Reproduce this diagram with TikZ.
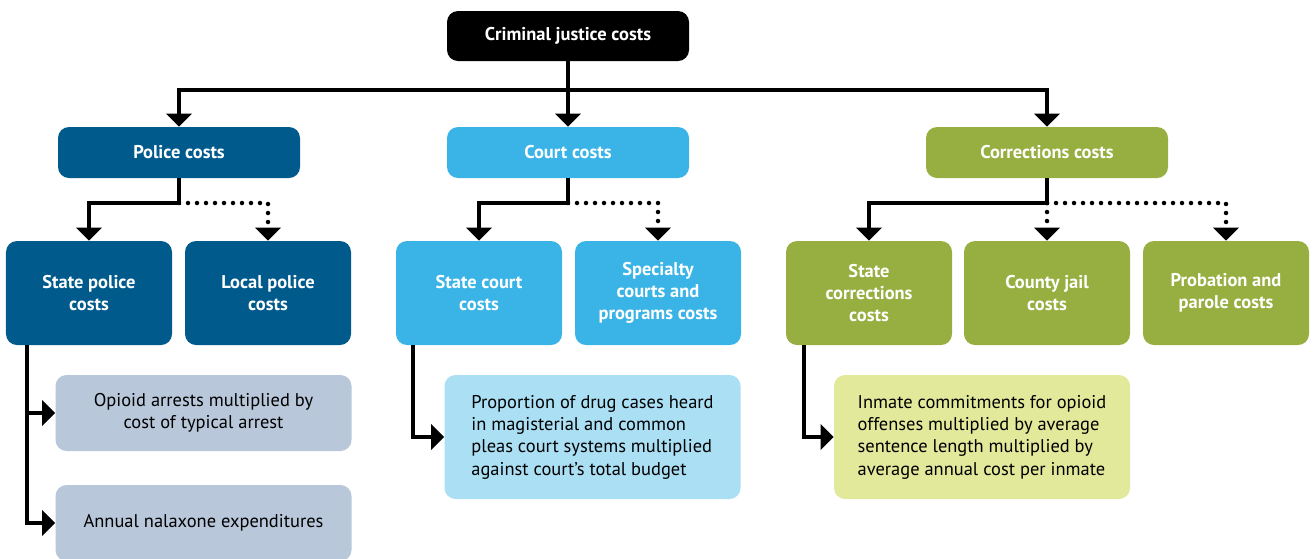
\documentclass[tikz,border=0pt]{standalone}
\usepackage{fontspec}
\setmainfont{PT Sans}
\usepackage{tikz}
\usetikzlibrary{arrows.meta,shapes,positioning}
\definecolor{policeblue}{RGB}{0,90,140}
\definecolor{courtblue}{RGB}{58,180,230}
\definecolor{corrgreen}{RGB}{151,174,64}
\definecolor{policepale}{RGB}{184,199,218}
\definecolor{courtpale}{RGB}{171,223,244}
\definecolor{corrpale}{RGB}{226,233,154}
\tikzstyle{box}     = [rounded corners=0.22cm, align=center, inner sep=2pt,
                       font=\fontsize{10.5}{12.7}\selectfont]
\tikzstyle{head}    = [box, text=white, font=\fontsize{10.5}{12.7}\selectfont\bfseries,
                       minimum width=4.84cm, minimum height=1.02cm]
\tikzstyle{sub}     = [head, minimum width=3.32cm, minimum height=2.08cm]
\tikzstyle{detail}  = [box, text=black, minimum width=5.92cm]
\tikzstyle{link}    = [line width=0.08cm, -{Triangle[width=0.5cm,length=0.26cm]}]
\tikzstyle{dotlink} = [line width=0.09cm, line cap=round, dash pattern=on 0pt off 0.18cm,
                       -{Triangle[width=0.5cm,length=0.26cm]}]

\begin{document}
\begin{tikzpicture}
        \useasboundingbox (0,0) rectangle (26.28,-11.16);

        % top of the tree
        \node[head, fill=black, minimum height=1.0cm] (top) at (11.36,-0.72) {Criminal justice costs};
        \node[head, fill=policeblue] (police) at (3.58,-3.05) {Police costs};
        \node[head, fill=courtblue] (court) at (11.36,-3.05) {Court costs};
        \node[head, fill=corrgreen] (corr) at (20.94,-3.05) {Corrections costs};

        % second row
        \node[sub, fill=policeblue] (statepol) at (1.78,-5.86) {State police\\costs};
        \node[sub, fill=policeblue] (localpol) at (5.36,-5.86) {Local police\\costs};
        \node[sub, fill=courtblue] (statecourt) at (9.58,-5.86) {State court\\costs};
        \node[sub, fill=courtblue] (special) at (13.16,-5.86) {Specialty\\courts and\\programs costs};
        \node[sub, fill=corrgreen] (statecorr) at (17.38,-5.86) {State\\corrections\\costs};
        \node[sub, fill=corrgreen] (jail) at (20.94,-5.86) {County jail\\costs};
        \node[sub, fill=corrgreen] (parole) at (24.52,-5.86) {Probation and\\parole costs};

        % how each cost is estimated
        \node[detail, fill=policepale, minimum height=1.52cm] (arrests) at (4.07,-8.26)
            {Opioid arrests multiplied by\\cost of typical arrest};
        \node[detail, fill=policepale, minimum height=1.52cm] (naloxone) at (4.07,-10.46)
            {Annual nalaxone expenditures};
        \node[detail, fill=courtpale, minimum height=2.48cm, align=left] (cases) at (11.85,-8.74)
            {Proportion of drug cases heard\\in magisterial and common\\pleas court systems multiplied\\against court's total budget};
        \node[detail, fill=corrpale, minimum height=2.48cm, align=left] (inmates) at (19.64,-8.74)
            {Inmate commitments for opioid\\offenses multiplied by average\\sentence length multiplied by\\average annual cost per inmate};

        % bus lines
        \coordinate (topbus) at (top.south |- 0,-1.80);
        \coordinate (polbus) at (police.south |- 0,-4.06);
        \coordinate (courtbus) at (court.south |- 0,-4.06);
        \coordinate (corrbus) at (corr.south |- 0,-4.06);

        \draw[link] (top.south) -- (court.north);
        \draw[link] (topbus) -| (police.north);
        \draw[link] (topbus) -| (corr.north);

        \draw[dotlink] (polbus) -| (localpol.north);
        \draw[link] (police.south) -- (polbus) -| (statepol.north);
        \draw[dotlink] (courtbus) -| (special.north);
        \draw[link] (court.south) -- (courtbus) -| (statecourt.north);
        \draw[dotlink] (corrbus) -| (parole.north);
        \draw[dotlink] (corrbus) -- (jail.north);
        \draw[link] (corr.south) -- (corrbus) -| (statecorr.north);

        % down to the estimates
        \draw[link] (statepol.south -| 0.54,0) |- (arrests.west);
        \draw[link] (statepol.south -| 0.54,0) |- (naloxone.west);
        \draw[link] (statecourt.south -| 8.26,0) |- (cases.west);
        \draw[link] (statecorr.south -| 16.08,0) |- (inmates.west);
    \end{tikzpicture}
\end{document}
